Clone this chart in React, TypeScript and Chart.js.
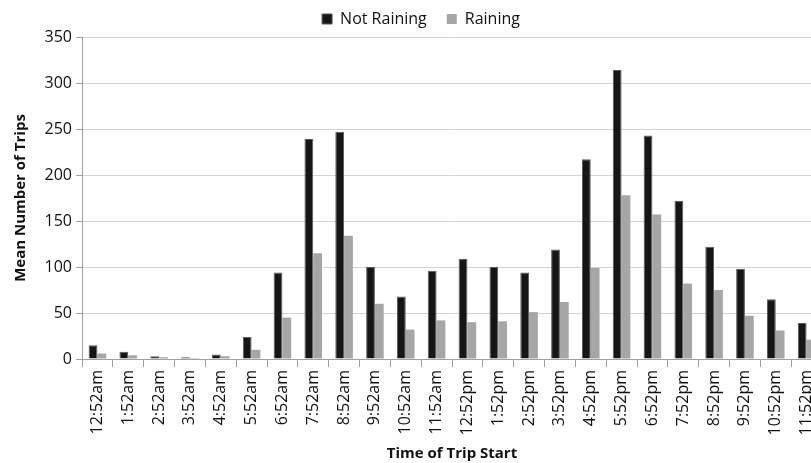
import React, { useEffect, useRef } from "react";
import { Chart, registerables } from "chart.js";

Chart.register(...registerables);

const categories = [
  "12:52am", "1:52am", "2:52am", "3:52am", "4:52am", "5:52am", "6:52am", "7:52am",
  "8:52am", "9:52am", "10:52am", "11:52am", "12:52pm", "1:52pm", "2:52pm", "3:52pm",
  "4:52pm", "5:52pm", "6:52pm", "7:52pm", "8:52pm", "9:52pm", "10:52pm", "11:52pm",
];
const notRaining = [15, 8, 3, 2, 5, 24, 94, 239, 247, 100, 68, 96, 109, 100, 94, 119, 217, 314, 243, 172, 122, 98, 65, 39];
const raining = [6, 4, 2, 1, 3, 10, 45, 115, 134, 60, 32, 42, 40, 41, 51, 62, 99, 178, 157, 82, 75, 47, 31, 21];

const FONT = "'Open Sans', sans-serif";
const TEXT = "#111111";

const shiftLegend = {
  id: "shiftLegend",
  afterLayout(chart: any) {
    if (chart.legend) {
      chart.legend.left += 10;
      chart.legend.right += 10;
    }
  },
};

export default function App() {
  const ref = useRef<HTMLCanvasElement>(null);
  useEffect(() => {
    if (!ref.current) return;
    const chart = new Chart(ref.current, {
      type: "bar",
      data: {
        labels: categories,
        datasets: [
          { label: "Not Raining", data: notRaining, backgroundColor: "#161616", borderColor: "#5a5a5a", borderWidth: 1, categoryPercentage: 0.57, barPercentage: 1 },
          { label: "Raining", data: raining, backgroundColor: "#a6a6a6", borderWidth: 0, categoryPercentage: 0.57, barPercentage: 1 },
        ],
      },
      plugins: [shiftLegend],
      options: {
        animation: false,
        responsive: false,
        maintainAspectRatio: false,
        layout: { padding: { top: -9, left: 0, right: 8, bottom: 0 } },
        plugins: {
          legend: {
            position: "top",
            labels: { boxWidth: 10, boxHeight: 10, padding: 20, color: TEXT, font: { family: FONT, size: 16 } },
          },
          tooltip: { enabled: false },
        },
        scales: {
          x: {
            offset: true,
            grid: { display: true, offset: true, drawOnChartArea: false, drawTicks: true, tickLength: 8, color: "#a0a0a0" },
            border: { color: "#a0a0a0" },
            ticks: { autoSkip: false, maxRotation: 90, minRotation: 90, color: TEXT, padding: 3, font: { family: FONT, size: 16 } },
            title: { display: true, text: "Time of Trip Start", color: TEXT, font: { family: FONT, size: 15, weight: "bold" }, padding: { top: 0, bottom: 0 } },
            afterFit: (s: any) => { s.height = 104; },
          },
          y: {
            min: 0,
            max: 350,
            ticks: { stepSize: 50, color: TEXT, padding: 4, font: { family: FONT, size: 16 } },
            grid: { color: "#d4d4d4", tickLength: 6, tickColor: "#a0a0a0" },
            border: { color: "#a0a0a0" },
            title: { display: true, text: "Mean Number of Trips", color: TEXT, font: { family: FONT, size: 15, weight: "bold" }, padding: { top: 12, bottom: 0 } },
            afterFit: (s: any) => { s.width = 82; },
          },
        },
      },
    });
    return () => chart.destroy();
  }, []);
  return (
    <div style={{ position: "fixed", left: 0, top: 0, width: 811, height: 463, overflow: "hidden", background: "#fff" }}>
      <canvas ref={ref} width={830} height={463} style={{ display: "block" }} />
    </div>
  );
}
